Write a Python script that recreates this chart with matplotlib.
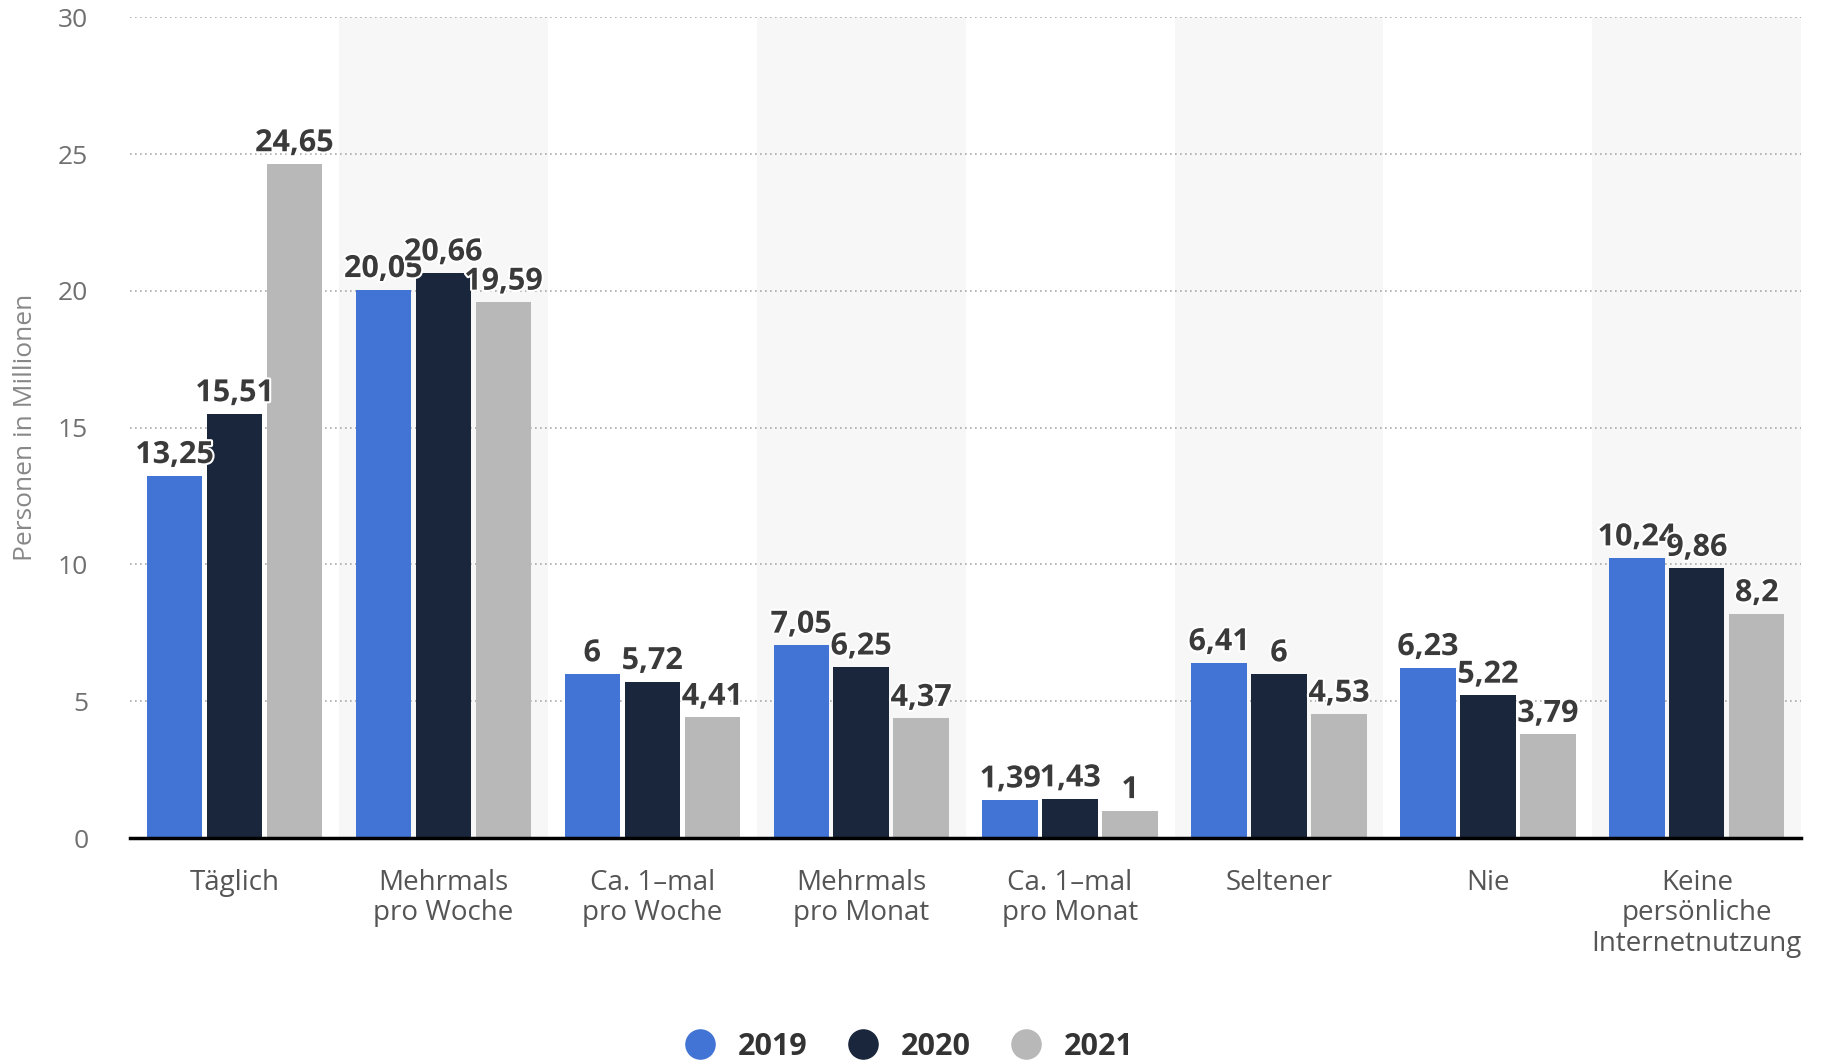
import numpy as np
import matplotlib
matplotlib.use('Agg')
import matplotlib.pyplot as plt
import matplotlib.patheffects as pe
from matplotlib.lines import Line2D

plt.rcParams['font.family'] = ['Open Sans', 'DejaVu Sans']

# Daten
kategorien = ['Täglich', 'Mehrmals\npro Woche', 'Ca. 1–mal\npro Woche', 'Mehrmals\npro Monat',
              'Ca. 1–mal\npro Monat', 'Seltener', 'Nie', 'Keine\npersönliche\nInternetnutzung']
jahre = ['2019', '2020', '2021']
werte_2019 = [13.25, 20.05, 6, 7.05, 1.39, 6.41, 6.23, 10.24]
werte_2020 = [15.51, 20.66, 5.72, 6.25, 1.43, 6, 5.22, 9.86]
werte_2021 = [24.65, 19.59, 4.41, 4.37, 1, 4.53, 3.79, 8.2]
farben = ['#4274d6', '#19263b', '#b8b8b8']

fig = plt.figure(figsize=(18.25, 10.64), dpi=100)
ax = fig.add_axes([0.0712, 0.2124, 0.9158, 0.7712])

x = np.arange(len(kategorien))
abstand = 0.287
breite = 0.265

# Hintergrundstreifen für jede zweite Kategorie
for i in range(1, len(kategorien), 2):
    ax.axvspan(i - 0.5, i + 0.5, color='#f7f7f7', zorder=0, lw=0)

for k, (serie, farbe) in enumerate(zip([werte_2019, werte_2020, werte_2021], farben)):
    pos = x + (k - 1) * abstand
    ax.bar(pos, serie, width=breite, color=farbe, zorder=3)
    for xp, v in zip(pos, serie):
        txt = f'{v:g}'.replace('.', ',')
        ax.annotate(txt, (xp, v), xytext=(0, 4), textcoords='offset points',
                    ha='center', va='bottom', fontsize=22, fontweight='bold',
                    color='#3a3a3a', zorder=5,
                    path_effects=[pe.withStroke(linewidth=3, foreground='white')])

ax.set_xlim(-0.5, len(kategorien) - 0.5)
ax.set_ylim(0, 30)
ax.set_yticks([0, 5, 10, 15, 20, 25, 30])
ax.set_xticks(x)
ax.set_xticklabels(kategorien, fontsize=20, color='#555555', linespacing=1.12)
ax.tick_params(axis='y', length=0, pad=30, labelsize=19, labelcolor='#707070')
ax.tick_params(axis='x', length=0, pad=22)

ax.yaxis.grid(True, linestyle=(0, (1, 2)), color='#aaaaaa', lw=1.2, zorder=1)
ax.set_axisbelow(True)
for s in ['top', 'right', 'left']:
    ax.spines[s].set_visible(False)
ax.spines['bottom'].set_color('black')
ax.spines['bottom'].set_linewidth(2.5)
ax.spines['bottom'].set_zorder(6)

ax.set_ylabel('Personen in Millionen', fontsize=19, color='#888888')
ax.yaxis.set_label_coords(-0.055, 0.5)

handles = [Line2D([], [], marker='o', linestyle='', markersize=21, color=f) for f in farben]
fig.legend(handles, jahre, loc='center', bbox_to_anchor=(0.494, 0.016), ncol=3, frameon=False,
           prop={'size': 22, 'weight': 'bold'}, labelcolor='#333333',
           handletextpad=0.25, columnspacing=0.8)

fig.savefig('out.png', dpi=100, facecolor='white')
